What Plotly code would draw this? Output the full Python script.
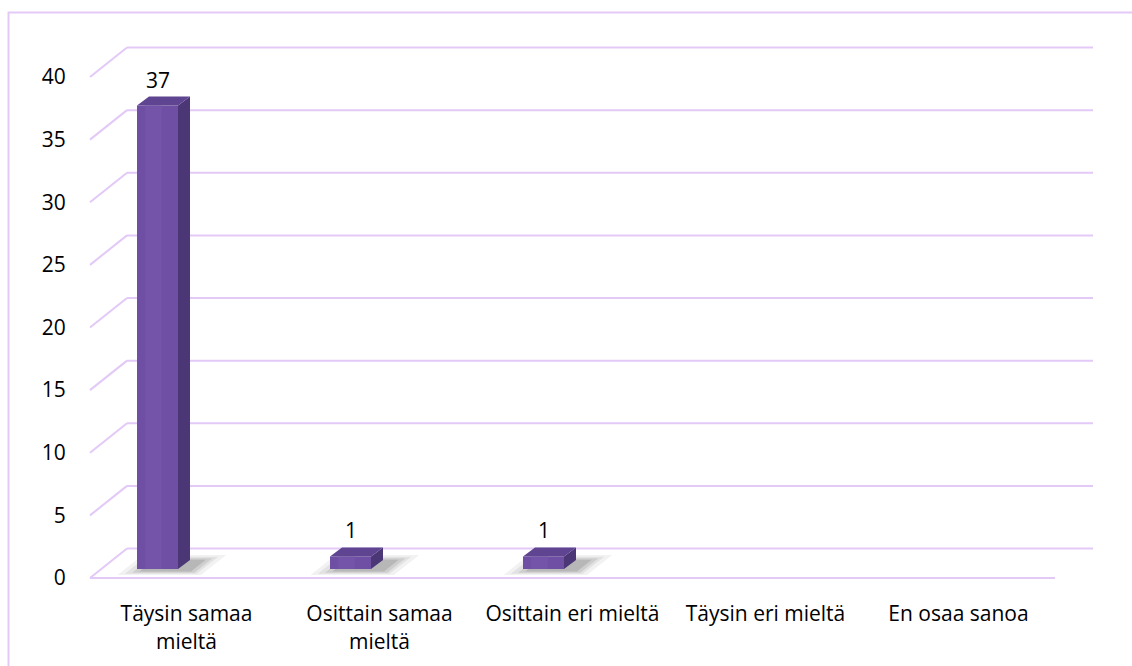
import plotly.graph_objects as go

# ---- data ----
categories = ["Täysin samaa<br>mieltä", "Osittain samaa<br>mieltä", "Osittain eri mieltä",
              "Täysin eri mieltä", "En osaa sanoa"]
values = [37, 1, 1, 0, 0]
y_ticks = [0, 5, 10, 15, 20, 25, 30, 35, 40]

# ---- pseudo-3D geometry (axis units) ----
PX_CAT = 193.0      # pixels per category
PX_UNIT = 12.525    # pixels per value unit
DX = 37 / PX_CAT    # back-wall offset
DY = 29.5 / PX_UNIT
FX0, FX1 = -49.5 / PX_CAT, -8.5 / PX_CAT   # bar front face relative to category
BASE = 9 / PX_UNIT                          # bar base lift (depth)
SDX, SDY = 12 / PX_CAT, 9 / PX_UNIT          # bar depth
GRID_END = (1093 - 90) / PX_CAT - 0.5

GRID = "#E3C9F7"
FRONT = "#6F4FA3"
FRONT_LIGHT = "#7858AD"
SIDE = "#4B3676"
TOP = "#5F4491"

L, R, T, B = 80, 1100, 20, 590
x_range = [(L - 90) / PX_CAT - 0.5, (R - 90) / PX_CAT - 0.5]
y_range = [(578 - B) / PX_UNIT, (578 - T) / PX_UNIT]

fig = go.Figure()
shapes = []

# back wall gridlines + left diagonals
for v in y_ticks:
    shapes.append(dict(type="line", xref="x", yref="y", x0=-0.5 + DX, x1=GRID_END,
                       y0=v + DY, y1=v + DY, line=dict(color=GRID, width=2), layer="below"))
    shapes.append(dict(type="line", xref="x", yref="y", x0=-0.5, x1=-0.5 + DX,
                       y0=v, y1=v + DY, line=dict(color=GRID, width=2), layer="below"))
# floor front edge
shapes.append(dict(type="line", xref="x", yref="y", x0=-0.5, x1=len(categories) - 0.5,
                   y0=0, y1=0, line=dict(color=GRID, width=2), layer="below"))

# outer frame (paper coords)
def px2paper_x(px):
    return (px - L) / (R - L)

def px2paper_y(py):
    return (B - py) / (B - T)

shapes.append(dict(type="rect", xref="paper", yref="paper",
                   x0=px2paper_x(8.5), x1=px2paper_x(1145), y0=px2paper_y(12.5), y1=px2paper_y(700),
                   line=dict(color=GRID, width=2), fillcolor="rgba(0,0,0,0)", layer="below"))


def poly(xs, ys, color, opacity=1.0):
    fig.add_trace(go.Scatter(x=xs + [xs[0]], y=ys + [ys[0]], mode="lines", fill="toself",
                             fillcolor=color, line=dict(width=0), opacity=opacity,
                             hoverinfo="skip", showlegend=False))


def floor_pt(x, d):
    return x + d * DX, d * DY


for i, v in enumerate(values):
    if v <= 0:
        continue
    x0, x1 = i + FX0, i + FX1
    # soft shadow on floor: layered parallelograms
    for ex_l, ex_r, d0, d1, op in [
            (0.12, 0.10, 0.10, 0.78, 0.07),
            (0.09, 0.07, 0.14, 0.72, 0.09),
            (0.06, 0.05, 0.18, 0.67, 0.12),
            (0.03, 0.025, 0.22, 0.62, 0.16)]:
        pts = [floor_pt(x0 - ex_l, d0), floor_pt(x1 + ex_r, d0),
               floor_pt(x1 + ex_r, d1), floor_pt(x0 - ex_l, d1)]
        poly([p[0] for p in pts], [p[1] for p in pts], "#404040", op)
    y0, y1 = BASE, v + BASE
    # side face
    poly([x1, x1 + SDX, x1 + SDX, x1], [y0, y0 + SDY, y1 + SDY, y1], SIDE)
    # front face
    poly([x0, x1, x1, x0], [y0, y0, y1, y1], FRONT)
    # lighter highlight strip on the front
    w = x1 - x0
    poly([x0 + 0.2 * w, x0 + 0.6 * w, x0 + 0.6 * w, x0 + 0.2 * w], [y0, y0, y1, y1], FRONT_LIGHT, 0.6)
    # top face
    poly([x0, x1, x1 + SDX, x0 + SDX], [y1, y1, y1 + SDY, y1 + SDY], TOP)
    # data label
    fig.add_annotation(x=(x0 + x1) / 2, y=y1 + SDY, text=str(v), showarrow=False,
                       yanchor="middle", yshift=17, font=dict(size=21, color="#000"))

fig.update_layout(
    width=1132, height=666,
    margin=dict(l=L, r=1132 - R, t=T, b=666 - B),
    paper_bgcolor="white", plot_bgcolor="white",
    font=dict(family="Open Sans, Lato, sans-serif", size=21, color="#000"),
    shapes=shapes,
    showlegend=False,
    xaxis=dict(range=x_range, tickmode="array", tickvals=list(range(len(categories))),
               ticktext=categories, showgrid=False, zeroline=False, showline=False,
               ticks="outside", ticklen=5, tickcolor="rgba(0,0,0,0)", fixedrange=True),
    yaxis=dict(range=y_range, tickmode="array", tickvals=y_ticks,
               ticktext=[str(t) for t in y_ticks], showgrid=False, zeroline=False,
               showline=False, ticks="outside", ticklen=9, tickcolor="rgba(0,0,0,0)",
               fixedrange=True),
)

fig.write_html("out.html")
